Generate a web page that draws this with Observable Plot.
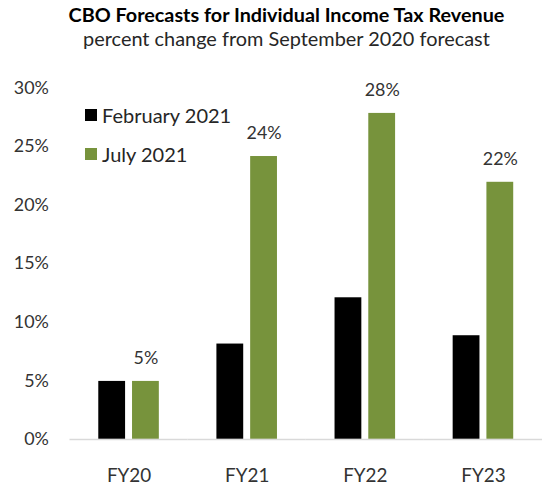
<!DOCTYPE html>
<html>
<head>
<meta charset="utf-8">
<script src="https://cdn.jsdelivr.net/npm/d3@7"></script>
<script src="https://cdn.jsdelivr.net/npm/@observablehq/plot@0.6"></script>
<style>
  body { margin: 0; background: #fff; }
  #wrap { position: relative; width: 543px; height: 486px; overflow: hidden; font-family: Lato, sans-serif; }
  #header { height: 60px; width: 543px; box-sizing: border-box; padding-left: 30px; text-align: center; }
  #title { font-weight: bold; font-size: 19.8px; line-height: 24px; height: 24px; padding-top: 2.2px; color: #000; white-space: nowrap; }
  #subtitle { font-size: 19.9px; line-height: 24px; height: 24px; margin-top: -0.6px; color: #262626; white-space: nowrap; }
  #legend { position: absolute; left: 85px; top: 103px; font-size: 20px; color: #262626; }
  .item { display: flex; align-items: center; height: 24px; margin-bottom: 14.5px; white-space: nowrap; }
  .sw { width: 12px; height: 12px; margin-right: 5px; }
</style>
</head>
<body>
<div id="wrap">
  <div id="header">
    <div id="title">CBO Forecasts for Individual Income Tax Revenue</div>
    <div id="subtitle">percent change from September 2020 forecast</div>
  </div>
  <div id="chart"></div>
  <div id="legend"></div>
</div>
<script>
const categories = ["FY20", "FY21", "FY22", "FY23"];
const series = ["February 2021", "July 2021"];
const february2021 = [4.95, 8.14, 12.09, 8.85];
const july2021 = [4.95, 24.15, 27.83, 21.95];
const julyLabels = ["5%", "24%", "28%", "22%"];
const yTicks = [0, 5, 10, 15, 20, 25, 30];
const colors = ["#000000", "#77933C"];

const data = [];
categories.forEach((c, i) => {
  data.push({cat: c, series: series[0], value: february2021[i]});
  data.push({cat: c, series: series[1], value: july2021[i]});
});
const labelData = categories.map((c, i) => ({cat: c, series: series[1], value: july2021[i], label: julyLabels[i]}));

const chart = Plot.plot({
  width: 547,
  height: 426,
  marginLeft: 69,
  marginRight: 0,
  marginTop: 27.7,
  marginBottom: 44.3,
  style: {fontFamily: "Lato, sans-serif", overflow: "visible"},
  fx: {domain: categories, padding: 0, label: null},
  x: {domain: series, paddingInner: 0.213, paddingOuter: 0.848, axis: null},
  y: {domain: [0, 30], label: null},
  color: {domain: series, range: colors},
  marks: [
    Plot.axisY({ticks: yTicks, tickFormat: d => d + "%", tickSize: 0, tickPadding: 21.3, fontSize: 18, color: "#333", label: null}),
    Plot.axisFx({anchor: "bottom", tickSize: 0, tickPadding: 29.5, fontSize: 19, color: "#333", label: null}),
    Plot.barY(data, {fx: "cat", x: "series", y: "value", fill: "series"}),
    Plot.ruleY([0], {stroke: "#d9d9d9", strokeWidth: 1.5}),
    Plot.text(labelData, {fx: "cat", x: "series", y: "value", text: "label", lineAnchor: "bottom", dy: -17.5, fontSize: 18, fill: "#333"})
  ]
});
document.getElementById("chart").appendChild(chart);

const legend = document.getElementById("legend");
series.forEach((s, i) => {
  const item = document.createElement("div");
  item.className = "item";
  const sw = document.createElement("div");
  sw.className = "sw";
  sw.style.background = colors[i];
  const t = document.createElement("span");
  t.textContent = s;
  item.appendChild(sw);
  item.appendChild(t);
  legend.appendChild(item);
});
</script>
</body>
</html>
